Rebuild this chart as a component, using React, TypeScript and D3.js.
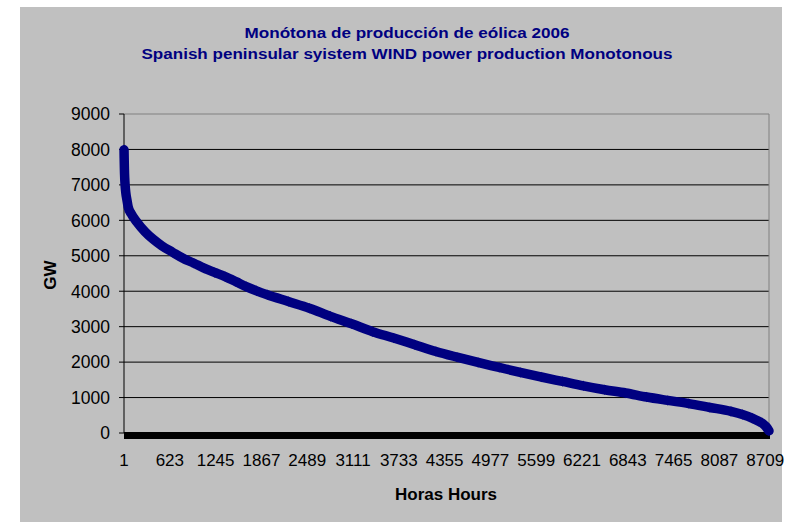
import * as d3 from 'd3';

// sorted hourly wind production (hour rank -> GW)
const hours = [
  1, 3, 6, 10, 16, 25, 40, 57, 100, 172, 286, 400, 515, 660, 802, 950, 1088,
  1230, 1374, 1520, 1660, 1800, 1947, 2233, 2519, 2805, 3092, 3378, 3664, 3950,
  4237, 4523, 4809, 5095, 5382, 5668, 5954, 6240, 6527, 6813, 7099, 7386, 7672,
  7958, 8244, 8400, 8531, 8620, 8674, 8720, 8760,
];
const production = [
  7990, 7750, 7450, 7200, 6980, 6780, 6580, 6380, 6180, 5960, 5680, 5460, 5280,
  5100, 4930, 4790, 4650, 4530, 4410, 4270, 4130, 4010, 3900, 3710, 3520, 3290,
  3080, 2860, 2680, 2490, 2300, 2140, 1990, 1850, 1710, 1580, 1455, 1330, 1220,
  1130, 1015, 920, 830, 720, 610, 520, 420, 330, 270, 180, 60,
];
const xTickLabels = [
  1, 623, 1245, 1867, 2489, 3111, 3733, 4355, 4977, 5599, 6221, 6843, 7465,
  8087, 8709,
];
const yTicks = [0, 1000, 2000, 3000, 4000, 5000, 6000, 7000, 8000, 9000];
const totalHours = 8760;

const titleLines = [
  'Monótona de producción de eólica 2006',
  'Spanish peninsular syistem WIND power production Monotonous',
];

const width = 794;
const height = 522;
const plot = { left: 124, right: 769, top: 114, bottom: 433 };
const navy = '#000080';
const font = 'Arial, "Liberation Sans", sans-serif';

export default function App() {
  const x = d3
    .scaleLinear()
    .domain([0, totalHours])
    .range([plot.left, plot.right]);
  const y = d3.scaleLinear().domain([0, 9000]).range([plot.bottom, plot.top]);
  const cx = (h: number) => x(h - 0.5);

  const points = hours.map((h, i) => [h, production[i]] as [number, number]);
  const line = d3
    .line<[number, number]>()
    .x((d) => cx(d[0]))
    .y((d) => y(d[1]))
    .curve(d3.curveMonotoneX);
  const diamond = d3.symbol().type(d3.symbolDiamond).size(32)();

  return (
    <svg
      width={width}
      height={height}
      style={{ position: 'absolute', left: 0, top: 0, fontFamily: font }}
    >
      <rect x={0} y={0} width={width} height={height} fill='#ffffff' />
      <rect x={20} y={7} width={762} height={height - 7} fill='#c0c0c0' />

      {titleLines.map((t, i) => (
        <text
          key={i}
          x={407}
          y={38 + i * 21}
          textAnchor='middle'
          fontSize={14.5}
          fontWeight='bold'
          fill={navy}
          textLength={i === 0 ? 325 : 531}
          lengthAdjust='spacingAndGlyphs'
        >
          {t}
        </text>
      ))}

      {/* gridlines + y axis */}
      {yTicks.map((v) => (
        <g key={v}>
          {v > 0 && (
            <line
              x1={plot.left}
              x2={plot.right}
              y1={y(v)}
              y2={y(v)}
              stroke={v === 9000 ? '#808080' : '#000'}
              strokeWidth={1}
            />
          )}
          <line
            x1={plot.left - 5}
            x2={plot.left}
            y1={y(v)}
            y2={y(v)}
            stroke='#000'
          />
          <text
            x={110}
            y={y(v)}
            dy='0.36em'
            textAnchor='end'
            fontSize={17.5}
            fill='#000'
          >
            {v}
          </text>
        </g>
      ))}
      <line
        x1={plot.right}
        x2={plot.right}
        y1={plot.top}
        y2={plot.bottom}
        stroke='#808080'
      />
      <line
        x1={plot.left}
        x2={plot.left}
        y1={plot.top}
        y2={plot.bottom}
        stroke='#000'
      />

      {/* x axis with dense category tick marks */}
      <rect
        x={plot.left}
        y={plot.bottom - 1}
        width={plot.right - plot.left + 1}
        height={7}
        fill='#000'
      />
      {xTickLabels.map((h) => (
        <text
          key={h}
          x={cx(h)}
          y={466}
          textAnchor='middle'
          fontSize={17}
          fill='#000'
        >
          {h}
        </text>
      ))}

      {/* series */}
      <path
        d={line(points) ?? ''}
        fill='none'
        stroke={navy}
        strokeWidth={9.5}
        strokeLinejoin='round'
        strokeLinecap='round'
      />
      {points.map((d, i) => (
        <path
          key={i}
          d={diamond ?? ''}
          transform={`translate(${cx(d[0])},${y(d[1])})`}
          fill={navy}
        />
      ))}

      <text
        transform='translate(56,275) rotate(-90)'
        textAnchor='middle'
        fontSize={17}
        fontWeight='bold'
        fill='#000'
      >
        GW
      </text>
      <text
        x={446}
        y={500}
        textAnchor='middle'
        fontSize={17}
        fontWeight='bold'
        fill='#000'
      >
        Horas Hours
      </text>
    </svg>
  );
}
